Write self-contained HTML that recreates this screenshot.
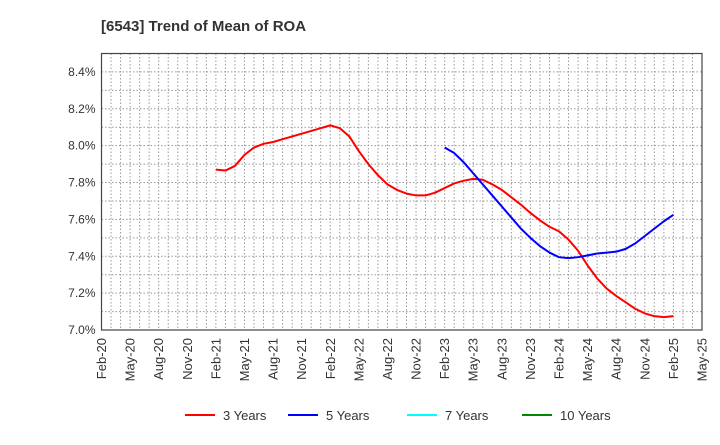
<!DOCTYPE html>
<html><head><meta charset="utf-8"><style>
body{margin:0;background:#fff;font-family:"Liberation Sans",Arial,sans-serif}
</style></head><body>
<svg width="720" height="440" xmlns="http://www.w3.org/2000/svg" font-family="Liberation Sans, Arial, sans-serif">
<text x="101" y="31" font-size="15" font-weight="bold" fill="#333">[6543]  Trend of Mean of ROA</text>
<g id="grid"></g>
<g id="axes"></g>
<g id="series"></g>
<g id="legend"></g>
</svg>
<script>
const xLabels=["Feb-20","May-20","Aug-20","Nov-20","Feb-21","May-21","Aug-21","Nov-21","Feb-22","May-22","Aug-22","Nov-22","Feb-23","May-23","Aug-23","Nov-23","Feb-24","May-24","Aug-24","Nov-24","Feb-25","May-25"];
const yTicks=[7.0,7.2,7.4,7.6,7.8,8.0,8.2,8.4];
const yTickLabels=["7.0%","7.2%","7.4%","7.6%","7.8%","8.0%","8.2%","8.4%"];
const red3Start=12;
const red3=[7.87,7.865,7.89,7.95,7.99,8.01,8.02,8.035,8.05,8.065,8.08,8.095,8.11,8.095,8.05,7.97,7.9,7.84,7.79,7.76,7.74,7.73,7.73,7.745,7.77,7.795,7.81,7.82,7.815,7.79,7.76,7.72,7.68,7.635,7.595,7.56,7.535,7.49,7.43,7.35,7.28,7.225,7.185,7.15,7.115,7.09,7.075,7.07,7.075];
const blue5Start=36;
const blue5=[7.99,7.96,7.91,7.85,7.79,7.73,7.67,7.61,7.55,7.5,7.455,7.42,7.395,7.39,7.395,7.405,7.415,7.42,7.425,7.44,7.47,7.51,7.55,7.59,7.625];
const L=101.5,R=702,T=53.5,B=330,NM=63,YMIN=7.0,YMAX=8.5;
const xs=m=>L+(R-L)*m/NM, ys=v=>B-(B-T)*(v-YMIN)/(YMAX-YMIN);
const NS="http://www.w3.org/2000/svg";
function mk(tag,attrs,parent){const e=document.createElementNS(NS,tag);for(const k in attrs)e.setAttribute(k,attrs[k]);parent.appendChild(e);return e;}
const grid=document.getElementById('grid'),axes=document.getElementById('axes'),ser=document.getElementById('series'),leg=document.getElementById('legend');
for(let m=1;m<NM;m++){const l=mk('line',{x1:xs(m),x2:xs(m),y1:T,y2:B,stroke:'#999','stroke-width':1,'stroke-dasharray':'1.5,2'},grid);

}
for(let v=7.1;v<8.5;v+=0.1){const l=mk('line',{x1:L,x2:R,y1:ys(v),y2:ys(v),stroke:'#999','stroke-width':1,'stroke-dasharray':'1.5,2'},grid);

}
const fr=mk('rect',{x:L,y:T,width:R-L,height:B-T,fill:'none',stroke:'#444','stroke-width':1.2},axes);


yTicks.forEach((v,i)=>{const t=mk('text',{x:L-6,y:ys(v)+4,'text-anchor':'end','font-size':12,fill:'#333'},axes);t.textContent=yTickLabels[i];

});
xLabels.forEach((s,i)=>{const x=xs(i*3),y=B+8;const t=mk('text',{x:x+4.5,y:y,'text-anchor':'end','font-size':13,fill:'#333',transform:`rotate(-90 ${x+4.5} ${y})`},axes);t.textContent=s;

});
function line(data,start,color,name){const p=mk('polyline',{points:data.map((v,i)=>xs(start+i)+','+ys(v)).join(' '),fill:'none',stroke:color,'stroke-width':2,'stroke-linejoin':'round'},ser);

}
line(red3,red3Start,'#f00','series-3-years');
line(blue5,blue5Start,'#00f','series-5-years');
[["3 Years","#f00",185],["5 Years","#00f",288],["7 Years","#0ff",407],["10 Years","#080",522]].forEach(([lab,c,x])=>{
const g=mk('g',{},leg);


mk('line',{x1:x,x2:x+30,y1:415,y2:415,stroke:c,'stroke-width':2},g);
const t=mk('text',{x:x+38,y:420,'font-size':13,fill:'#333'},g);t.textContent=lab;});
</script>
</body></html>
